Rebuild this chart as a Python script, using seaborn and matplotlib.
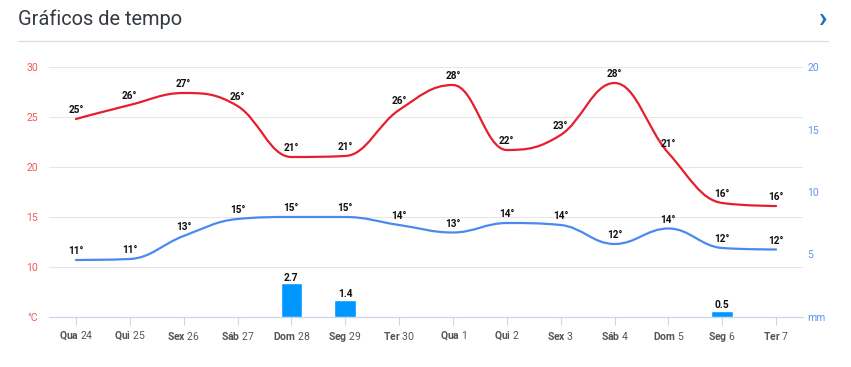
import numpy as np
import pandas as pd
import matplotlib
matplotlib.use("Agg")
import matplotlib.pyplot as plt
import seaborn as sns
from matplotlib.path import Path
from matplotlib.patches import PathPatch
from matplotlib.lines import Line2D

# ---------------- data ----------------
days = ["Qua", "Qui", "Sex", "Sáb", "Dom", "Seg", "Ter",
        "Qua", "Qui", "Sex", "Sáb", "Dom", "Seg", "Ter"]
dates = ["24", "25", "26", "27", "28", "29", "30",
         "1", "2", "3", "4", "5", "6", "7"]
max_temp = [24.8, 26.2, 27.4, 26.1, 21.0, 21.1, 25.7,
            28.2, 21.7, 23.2, 28.4, 21.4, 16.4, 16.1]
min_temp = [10.7, 10.8, 13.1, 14.8, 15.0, 15.0, 14.2,
            13.45, 14.4, 14.2, 12.3, 13.85, 11.9, 11.75]
precip = [0, 0, 0, 0, 2.7, 1.4, 0, 0, 0, 0, 0, 0, 0.5, 0]
temp_ticks = [5, 10, 15, 20, 25, 30]
temp_tick_labels = ["°C", "10", "15", "20", "25", "30"]
rain_ticks = [0, 5, 10, 15, 20]
rain_tick_labels = ["mm", "5", "10", "15", "20"]


def spline_path(xs, ys, smoothing=1.5):
    """Highcharts-style spline through the data points (cubic Bezier)."""
    n = len(xs)
    verts = [(xs[0], ys[0])]
    codes = [Path.MOVETO]
    right = [None] * n
    denom = smoothing + 1
    for i in range(1, n):
        x, y = xs[i], ys[i]
        lx, ly = xs[i - 1], ys[i - 1]
        if i < n - 1:
            nx, ny = xs[i + 1], ys[i + 1]
            lcx = (smoothing * x + lx) / denom
            lcy = (smoothing * y + ly) / denom
            rcx = (smoothing * x + nx) / denom
            rcy = (smoothing * y + ny) / denom
            corr = (rcy - lcy) * (rcx - x) / (rcx - lcx) + y - rcy
            lcy += corr
            rcy += corr
            if lcy > ly and lcy > y:
                lcy = max(ly, y); rcy = 2 * y - lcy
            elif lcy < ly and lcy < y:
                lcy = min(ly, y); rcy = 2 * y - lcy
            if rcy > ny and rcy > y:
                rcy = max(ny, y); lcy = 2 * y - rcy
            elif rcy < ny and rcy < y:
                rcy = min(ny, y); lcy = 2 * y - rcy
            right[i] = (rcx, rcy)
        else:
            lcx, lcy = x, y
        prev_r = right[i - 1] if right[i - 1] is not None else (lx, ly)
        verts += [prev_r, (lcx, lcy), (x, y)]
        codes += [Path.CURVE4] * 3
    return Path(verts, codes)


sns.set_theme(style="white")
plt.rcParams["font.family"] = ["Roboto", "DejaVu Sans"]
plt.rcParams["mathtext.fontset"] = "custom"
plt.rcParams["mathtext.rm"] = "Roboto"
plt.rcParams["mathtext.bf"] = "Roboto:bold"

W, H = 851, 367
fig = plt.figure(figsize=(W / 100, H / 100), dpi=100)
fig.patch.set_facecolor("white")

ax = fig.add_axes([49 / W, 1 - 317 / H, (803 - 49) / W, 250 / H])
ax2 = ax.twinx()

idx = list(range(len(days)))
df = pd.DataFrame({"i": idx, "precip": precip, "tmax": max_temp, "tmin": min_temp})

# precipitation bars (right axis)
sns.barplot(data=df, x="i", y="precip", ax=ax2, color="#0096ff",
            saturation=1, width=0.4, order=idx)
for i, p in zip(idx, precip):
    if p > 0:
        ax2.annotate(f"{p:.1f}", (i, p), xytext=(0, 0.3), textcoords="offset points",
                     ha="center", va="bottom", fontsize=7.3, fontweight="bold",
                     color="#111111")

# temperature splines (left axis)
for col, color in [("tmax", "#e61e2d"), ("tmin", "#4a8af0")]:
    path = spline_path(df["i"].to_numpy(float), df[col].to_numpy(float))
    ax.add_patch(PathPatch(path, facecolor="none", edgecolor=color, lw=1.6,
                           capstyle="round", joinstyle="round", zorder=3))
    for i, v in zip(df["i"], df[col]):
        ax.annotate(f"{v:.0f}°", (i, v), xytext=(0, 2.8), textcoords="offset points",
                    ha="center", va="bottom", fontsize=7.2, fontweight="bold",
                    color="#111111", zorder=4)

ax.set_xlim(-0.5, 13.5)
ax2.set_xlim(-0.5, 13.5)
ax.set_ylim(5, 30)
ax2.set_ylim(0, 20)

# left axis
ax.set_yticks(temp_ticks)
ax.set_yticklabels(temp_tick_labels)
ax.tick_params(axis="y", length=0, pad=8, labelsize=7.5, labelcolor="#f05a5a")
ax.yaxis.grid(True, color="#e6e6e6", lw=0.75)
ax.set_axisbelow(True)

# right axis
ax2.set_yticks(rain_ticks)
ax2.set_yticklabels(rain_tick_labels)
ax2.tick_params(axis="y", length=0, pad=3, labelsize=7.5, labelcolor="#5b95f0")
ax2.grid(False)
ax2.set_ylabel("")
ax2.set_xlabel("")
ax.set_ylabel("")
ax.set_xlabel("")

# x axis
ax.set_xticks(idx)
ax.set_xticklabels([f"$\\mathbf{{{d}}}$ {n}" for d, n in zip(days, dates)])
ax.tick_params(axis="x", length=6, width=0.75, color="#ccd6eb", pad=3,
               labelsize=7.5, labelcolor="#555555", bottom=True)
ax2.tick_params(axis="x", bottom=False, labelbottom=False)

for a in (ax, ax2):
    for s in ("top", "left", "right"):
        a.spines[s].set_visible(False)
    a.spines["bottom"].set_color("#ccd6eb")
    a.spines["bottom"].set_linewidth(0.9)
ax2.spines["bottom"].set_visible(False)

# header
fig.text(18 / W, 1 - 19 / H, "Gráficos de tempo", fontsize=14.4, color="#333a42",
         va="center", ha="left")
fig.text(823 / W, 1 - 19.5 / H, "›", fontsize=20, fontweight="bold", color="#1a70c0",
         va="center", ha="center")
fig.add_artist(Line2D([18 / W, 828 / W], [1 - 41 / H, 1 - 41 / H],
                      color="#dddddd", lw=0.9))

fig.savefig("out.png", dpi=100, facecolor="white")
